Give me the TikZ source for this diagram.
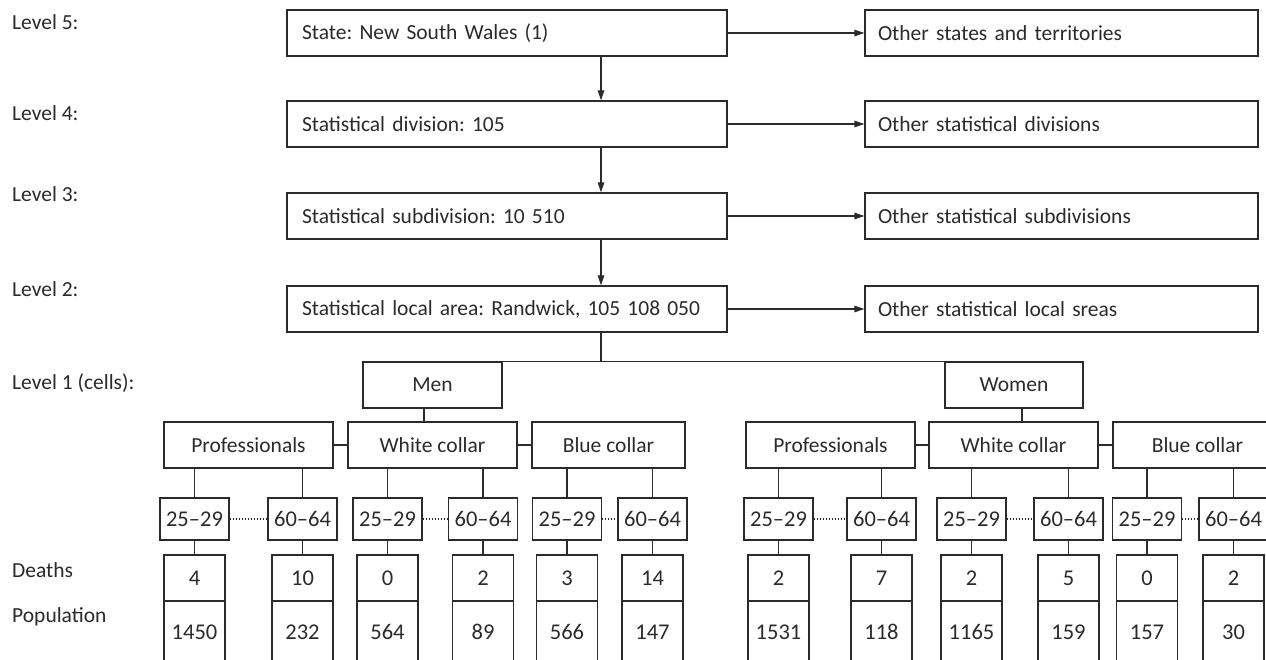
\documentclass[tikz,border=0pt]{standalone}
\usepackage{fontspec}
\setmainfont{Carlito}
\usetikzlibrary{arrows.meta}
\definecolor{ink}{HTML}{2B2B2B}
\frenchspacing
\begin{document}
\begin{tikzpicture}[x=1pt,y=-1pt,
  every node/.style={text=ink, font=\fontsize{21.5}{24}\selectfont},
  lbox/.style={draw=ink, line width=1.3pt, rectangle, inner xsep=15pt, inner ysep=0pt, text width=410pt, align=left, minimum height=46pt},
  rbox/.style={draw=ink, line width=1.3pt, rectangle, inner xsep=13pt, inner ysep=0pt, text width=367pt, align=left, minimum height=46pt},
  cbox/.style={draw=ink, line width=1.3pt, rectangle, inner sep=0pt, minimum height=46pt},
  abox/.style={draw=ink, line width=1.3pt, rectangle, inner sep=0pt, minimum width=69pt, minimum height=42pt, font=\fontsize{22.5}{24}\selectfont},
  dbox/.style={draw=ink, line width=1.3pt, rectangle, inner sep=0pt, minimum width=61pt, minimum height=46pt, font=\fontsize{22.5}{24}\selectfont},
  pbox/.style={draw=ink, line width=1.3pt, rectangle, inner sep=0pt, minimum width=61pt, minimum height=62pt, font=\fontsize{22.5}{24}\selectfont},
  lev/.style={anchor=west, inner sep=0pt},
  conn/.style={draw=ink, line width=1.3pt},
  arr/.style={conn, -{Triangle[length=10pt,width=6.5pt]}},
  dots/.style={draw=ink, line width=1.1pt, dash pattern=on 1.3pt off 1.7pt}
]
\useasboundingbox (0,0) rectangle (1266,660);
\clip (0,0) rectangle (1266,660);
\fill[white] (0,0) rectangle (1266,660);

% level labels
\node[lev] (l5) at (12,22) {Level 5:};
\node[lev] (l4) at (12,113) {Level 4:};
\node[lev] (l3) at (12,194) {Level 3:};
\node[lev] (l2) at (12,289) {Level 2:};
\node[lev] (l1) at (12,383) {Level 1 (cells):};
\node[lev] (ld) at (12,570) {Deaths};
\node[lev] (lp) at (12,617) {Population};

% hierarchy
\node[lbox] (s5) at (507,33) {State: New South Wales (1)};
\node[lbox] (s4) at (507,124) {Statistical division: 105};
\node[lbox] (s3) at (507,216) {Statistical subdivision: 10 510};
\node[lbox] (s2) at (507,309) {Statistical local area: Randwick, 105 108 050};

\node[rbox] (o5) at (1061.5,33) {Other states and territories};
\node[rbox] (o4) at (1061.5,124) {Other statistical divisions};
\node[rbox] (o3) at (1061.5,216) {Other statistical subdivisions};
\node[rbox] (o2) at (1061.5,309) {Other statistical local sreas};

\foreach \a in {5,4,3,2} {
  \draw[arr] (s\a.east) -- (o\a.west);
}
\coordinate (dx) at (601,0);
\draw[arr] (s5.south -| dx) -- (s4.north -| dx);
\draw[arr] (s4.south -| dx) -- (s3.north -| dx);
\draw[arr] (s3.south -| dx) -- (s2.north -| dx);

% sex
\node[cbox, minimum width=139pt] (men) at (432.5,385) {Men};
\node[cbox, minimum width=138pt] (women) at (1014,385) {Women};
\draw[conn] (s2.south -| dx) -- (men.north -| dx);
\draw[conn] (men.north east) -- (women.north west);

% occupations
\node[cbox, minimum width=169pt] (mp) at (248.5,445) {Professionals};
\node[cbox, minimum width=169pt] (mw) at (432.5,445) {White collar};
\node[cbox, minimum width=153pt] (mb) at (608.5,445) {Blue collar};
\node[cbox, minimum width=169pt] (wp) at (830.5,445) {Professionals};
\node[cbox, minimum width=169pt] (ww) at (1013.5,445) {White collar};
\node[cbox, minimum width=169pt] (wb) at (1197.5,445) {Blue collar};

\draw[conn] (mp.east) -- (mw.west);
\draw[conn] (mw.east) -- (mb.west);
\draw[conn] (wp.east) -- (ww.west);
\draw[conn] (ww.east) -- (wb.west);
\coordinate (mx) at (424,0);
\coordinate (wx) at (1022,0);
\draw[conn] (men.south -| mx) -- (mw.north -| mx);
\draw[conn] (women.south -| wx) -- (ww.north -| wx);

% age groups, deaths, population
\foreach \i/\x/\p/\ag/\de/\po in {
  1/194.5/mp/25--29/4/1450,
  2/302.5/mp/60--64/10/232,
  3/387.5/mw/25--29/0/564,
  4/483/mw/60--64/2/89,
  5/567/mb/25--29/3/566,
  6/652.5/mb/60--64/14/147,
  7/778.5/wp/25--29/2/1531,
  8/881.5/wp/60--64/7/118,
  9/971.5/ww/25--29/2/1165,
  10/1068.5/ww/60--64/5/159,
  11/1147/wb/25--29/0/157,
  12/1233.5/wb/60--64/2/30} {
  \node[abox] (a\i) at (\x,519) {\ag};
  \node[dbox] (d\i) at (\x,578) {\de};
  \node[pbox] (p\i) at (\x,632) {\po};
  \draw[conn] (\p.south -| a\i.north) -- (a\i.north);
  \draw[conn] (a\i.south) -- (d\i.north);
}
\foreach \i/\j in {1/2,3/4,5/6,7/8,9/10,11/12} {
  \draw[dots] (a\i.east) -- (a\j.west);
}
\end{tikzpicture}
\end{document}
